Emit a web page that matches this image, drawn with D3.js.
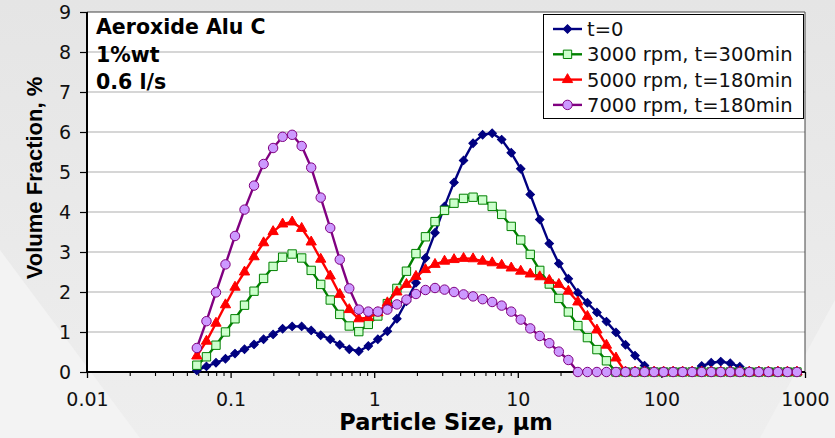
<!DOCTYPE html>
<html>
<head>
<meta charset="utf-8">
<script src="https://cdn.jsdelivr.net/npm/d3@7/dist/d3.min.js"></script>
<style>
  body { margin: 0; background: #e8e8e8; }
  #chart svg { display: block; }
</style>
</head>
<body>
<div id="chart"></div>
<script>
// --- data ---
// particle size classes (µm), log spaced
const sizes = [0.0582, 0.0679, 0.0791, 0.0921, 0.1073, 0.125, 0.1456, 0.1697, 0.1977, 0.2303,
  0.2683, 0.3125, 0.3641, 0.4242, 0.4941, 0.5756, 0.6706, 0.7812, 0.9101, 1.06,
  1.235, 1.439, 1.677, 1.953, 2.275, 2.651, 3.088, 3.597, 4.19, 4.88,
  5.69, 6.63, 7.72, 9.0, 10.48, 12.21, 14.22, 16.57, 19.31, 22.49,
  26.2, 30.53, 35.56, 41.43, 48.27, 56.23, 65.51, 76.32, 88.91, 103.58,
  120.67, 140.58, 163.77, 190.8, 222.28, 258.95, 301.68, 351.46, 409.45, 477.01,
  555.71, 647.41, 754.23, 878.67];

const seriesNames = ["t=0", "3000 rpm, t=300min", "5000 rpm, t=180min", "7000 rpm, t=180min"];

const volT0 = [0.04, 0.14, 0.23, 0.33, 0.46, 0.57, 0.69, 0.82, 0.94, 1.08,
  1.14, 1.14, 1.04, 0.92, 0.82, 0.68, 0.57, 0.52, 0.65, 0.82,
  1.02, 1.33, 1.77, 2.23, 2.85, 3.48, 4.14, 4.74, 5.29, 5.72,
  5.93, 5.97, 5.81, 5.48, 5.08, 4.44, 3.81, 3.21, 2.71, 2.33,
  1.98, 1.73, 1.49, 1.26, 0.99, 0.68, 0.41, 0.16, 0, 0,
  0, 0, 0, 0.15, 0.23, 0.26, 0.22, 0.13, 0, 0,
  0, 0, 0, 0];

const vol3000 = [0.17, 0.38, 0.67, 1.00, 1.33, 1.67, 2.02, 2.34, 2.64, 2.87,
  2.95, 2.85, 2.54, 2.19, 1.80, 1.44, 1.15, 1.01, 1.19, 1.40,
  1.71, 2.09, 2.52, 2.96, 3.38, 3.76, 4.04, 4.22, 4.34, 4.37,
  4.30, 4.14, 3.94, 3.64, 3.30, 2.94, 2.54, 2.20, 1.84, 1.50,
  1.16, 0.86, 0.56, 0.28, 0, 0, 0, 0, 0, 0,
  0, 0, 0, 0, 0, 0, 0, 0, 0, 0,
  0, 0, 0, 0];

const vol5000 = [0.40, 0.77, 1.22, 1.68, 2.12, 2.50, 2.88, 3.23, 3.51, 3.70,
  3.75, 3.59, 3.25, 2.82, 2.40, 1.94, 1.56, 1.33, 1.36, 1.48,
  1.73, 2.00, 2.19, 2.39, 2.56, 2.69, 2.77, 2.81, 2.84, 2.83,
  2.77, 2.73, 2.67, 2.60, 2.52, 2.45, 2.38, 2.29, 2.19, 2.02,
  1.75, 1.39, 1.05, 0.67, 0.35, 0, 0, 0, 0, 0,
  0, 0, 0, 0, 0, 0, 0, 0, 0, 0,
  0, 0, 0, 0];

const vol7000 = [0.60, 1.27, 1.99, 2.69, 3.40, 4.06, 4.66, 5.20, 5.60, 5.88,
  5.93, 5.65, 5.11, 4.36, 3.60, 2.81, 2.09, 1.56, 1.51, 1.51,
  1.56, 1.69, 1.81, 1.95, 2.05, 2.10, 2.06, 2.00, 1.94, 1.89,
  1.82, 1.75, 1.66, 1.51, 1.31, 1.09, 0.90, 0.72, 0.51, 0.30,
  0, 0, 0, 0, 0, 0, 0, 0, 0, 0,
  0, 0, 0, 0, 0, 0, 0, 0, 0, 0,
  0, 0, 0, 0];

const xTickLabels = ["0.01", "0.1", "1", "10", "100", "1000"];
const yTickLabels = ["0", "1", "2", "3", "4", "5", "6", "7", "8", "9"];
const infoLines = ["Aeroxide Alu C", "1%wt", "0.6 l/s"];

window.onload = () => {
  const W = 835, H = 438;
  const plot = { left: 87, top: 12, right: 805, bottom: 372 };

  const svg = d3.select("#chart").append("svg")
    .attr("width", W)
    .attr("height", H);

  // grey slide background with a light diagonal sheen
  const defs = svg.append("defs");
  const grad = defs.append("linearGradient").attr("id", "bg")
    .attr("x1", 0).attr("y1", 0).attr("x2", 0).attr("y2", 1);
  grad.append("stop").attr("offset", "0%").attr("stop-color", "#e5e5e5");
  grad.append("stop").attr("offset", "100%").attr("stop-color", "#eeeeee");
  svg.append("rect").attr("width", W).attr("height", H).attr("fill", "url(#bg)");
  svg.append("path")
    .attr("d", "M0,250 L140,438 L0,438 Z")
    .attr("fill", "#f3f3f3");
  svg.append("path")
    .attr("d", "M835,300 L760,438 L835,438 Z")
    .attr("fill", "#f2f2f2");

  // scales
  const x = d3.scaleLog().domain([0.01, 1000]).range([plot.left, plot.right]);
  const y = d3.scaleLinear().domain([0, 9]).range([plot.bottom, plot.top]);

  // plot area
  svg.append("rect")
    .attr("x", plot.left).attr("y", plot.top)
    .attr("width", plot.right - plot.left).attr("height", plot.bottom - plot.top)
    .attr("fill", "#fff");

  // horizontal gridlines
  svg.append("g").selectAll("line")
    .data(yTickLabels.map(Number).filter(v => v > 0 && v < 9))
    .enter().append("line")
    .attr("x1", plot.left).attr("x2", plot.right)
    .attr("y1", d => y(d)).attr("y2", d => y(d))
    .attr("stroke", "#c9c9c9")
    .attr("stroke-width", 1.5);

  // top and right border
  svg.append("path")
    .attr("d", `M${plot.left},${plot.top}H${plot.right}V${plot.bottom}`)
    .attr("fill", "none")
    .attr("stroke", "#444")
    .attr("stroke-width", 1);

  // x axis (major ticks + labels)
  const xAxis = svg.append("g")
    .attr("transform", `translate(0,${plot.bottom})`)
    .call(d3.axisBottom(x)
      .tickValues(xTickLabels.map(Number))
      .tickFormat((d, i) => xTickLabels[i])
      .tickSize(6)
      .tickPadding(15));
  xAxis.select(".domain").remove();
  xAxis.selectAll("line").attr("stroke", "#000").attr("stroke-width", 1.3);
  xAxis.selectAll("text")
    .style("font-family", "'DejaVu Sans', sans-serif")
    .style("font-size", "19px")
    .attr("fill", "#111");

  // minor log ticks
  const minor = [];
  xTickLabels.map(Number).slice(0, -1).forEach(dec => {
    for (let k = 2; k <= 9; k++) minor.push(dec * k);
  });
  svg.append("g").selectAll("line")
    .data(minor)
    .enter().append("line")
    .attr("x1", d => x(d)).attr("x2", d => x(d))
    .attr("y1", plot.bottom).attr("y2", plot.bottom + 4)
    .attr("stroke", "#000")
    .attr("stroke-width", 1.1);

  // y axis
  const yAxis = svg.append("g")
    .attr("transform", `translate(${plot.left},0)`)
    .call(d3.axisLeft(y)
      .tickValues(yTickLabels.map(Number))
      .tickFormat((d, i) => yTickLabels[i])
      .tickSize(7)
      .tickPadding(9));
  yAxis.select(".domain").remove();
  yAxis.selectAll("line").attr("stroke", "#000").attr("stroke-width", 1.2);
  yAxis.selectAll("text")
    .style("font-family", "'DejaVu Sans', sans-serif")
    .style("font-size", "19px")
    .attr("fill", "#111");

  // axis lines
  svg.append("line")
    .attr("x1", plot.left).attr("x2", plot.left)
    .attr("y1", plot.top).attr("y2", plot.bottom + 1)
    .attr("stroke", "#000").attr("stroke-width", 2);
  svg.append("line")
    .attr("x1", plot.left).attr("x2", plot.right)
    .attr("y1", plot.bottom).attr("y2", plot.bottom)
    .attr("stroke", "#000").attr("stroke-width", 2);

  // axis titles
  svg.append("text")
    .attr("x", (plot.left + plot.right) / 2)
    .attr("y", 430)
    .attr("text-anchor", "middle")
    .style("font-family", "'DejaVu Sans', sans-serif")
    .style("font-weight", "bold")
    .style("font-size", "22.5px")
    .text("Particle Size, µm");

  svg.append("text")
    .attr("transform", "translate(42,178) rotate(-90)")
    .attr("text-anchor", "middle")
    .style("font-family", "'Liberation Sans', Arial, sans-serif")
    .style("font-weight", "bold")
    .style("font-size", "22px")
    .text("Volume Fraction, %");

  // sample description in the corner
  svg.append("g").selectAll("text")
    .data(infoLines)
    .enter().append("text")
    .attr("x", 96)
    .attr("y", (d, i) => 34 + i * 27.5)
    .style("font-family", "'DejaVu Sans', sans-serif")
    .style("font-weight", "bold")
    .style("font-size", "20.5px")
    .text(d => d);

  // --- series ---
  const symbolFns = {
    diamond: d3.symbol().type(d3.symbolSquare).size(36),
    square: d3.symbol().type(d3.symbolSquare).size(70),
    triangle: d3.symbol().type(d3.symbolTriangle).size(46),
    circle: d3.symbol().type(d3.symbolCircle).size(70)
  };

  const series = [
    { name: seriesNames[0], values: volT0, line: "#000080", fill: "#000080", stroke: "#000080", shape: "diamond", rot: 45 },
    { name: seriesNames[1], values: vol3000, line: "#008000", fill: "#ccffcc", stroke: "#008000", shape: "square", rot: 0 },
    { name: seriesNames[2], values: vol5000, line: "#ff0000", fill: "#ff0000", stroke: "#ff0000", shape: "triangle", rot: 0 },
    { name: seriesNames[3], values: vol7000, line: "#800080", fill: "#cc99ff", stroke: "#800080", shape: "circle", rot: 0 }
  ];

  const line = d3.line()
    .x(d => x(d[0]))
    .y(d => y(d[1]));

  series.forEach(s => {
    const pts = sizes.map((sz, i) => [sz, s.values[i]]);
    const g = svg.append("g");

    g.append("path")
      .datum(pts)
      .attr("d", line)
      .attr("fill", "none")
      .attr("stroke", s.line)
      .attr("stroke-width", 2.4)
      .attr("stroke-linejoin", "round");

    g.selectAll(".mark")
      .data(pts)
      .enter().append("path")
      .attr("class", "mark")
      .attr("transform", d => `translate(${x(d[0])},${y(d[1])}) rotate(${s.rot})`)
      .attr("d", symbolFns[s.shape])
      .attr("fill", s.fill)
      .attr("stroke", s.stroke)
      .attr("stroke-width", 1);
  });

  // --- legend ---
  const lg = svg.append("g");
  lg.append("rect")
    .attr("x", 543.5).attr("y", 14.5)
    .attr("width", 260).attr("height", 104)
    .attr("fill", "#fff")
    .attr("stroke", "#000")
    .attr("stroke-width", 1);

  const rows = lg.selectAll(".legend")
    .data(series)
    .enter().append("g")
    .attr("class", "legend")
    .attr("transform", (d, i) => `translate(553,${29 + i * 25.3})`);

  rows.append("line")
    .attr("x1", 0).attr("x2", 29)
    .attr("stroke", d => d.line)
    .attr("stroke-width", 2.4);

  rows.append("path")
    .attr("transform", d => `translate(14.5,0) rotate(${d.rot})`)
    .attr("d", d => symbolFns[d.shape]())
    .attr("fill", d => d.fill)
    .attr("stroke", d => d.stroke)
    .attr("stroke-width", 1);

  rows.append("text")
    .attr("x", 34)
    .attr("dy", "0.36em")
    .style("font-family", "'DejaVu Sans', sans-serif")
    .style("font-size", "19.5px")
    .attr("fill", "#111")
    .text(d => d.name);
};
</script>
</body>
</html>
